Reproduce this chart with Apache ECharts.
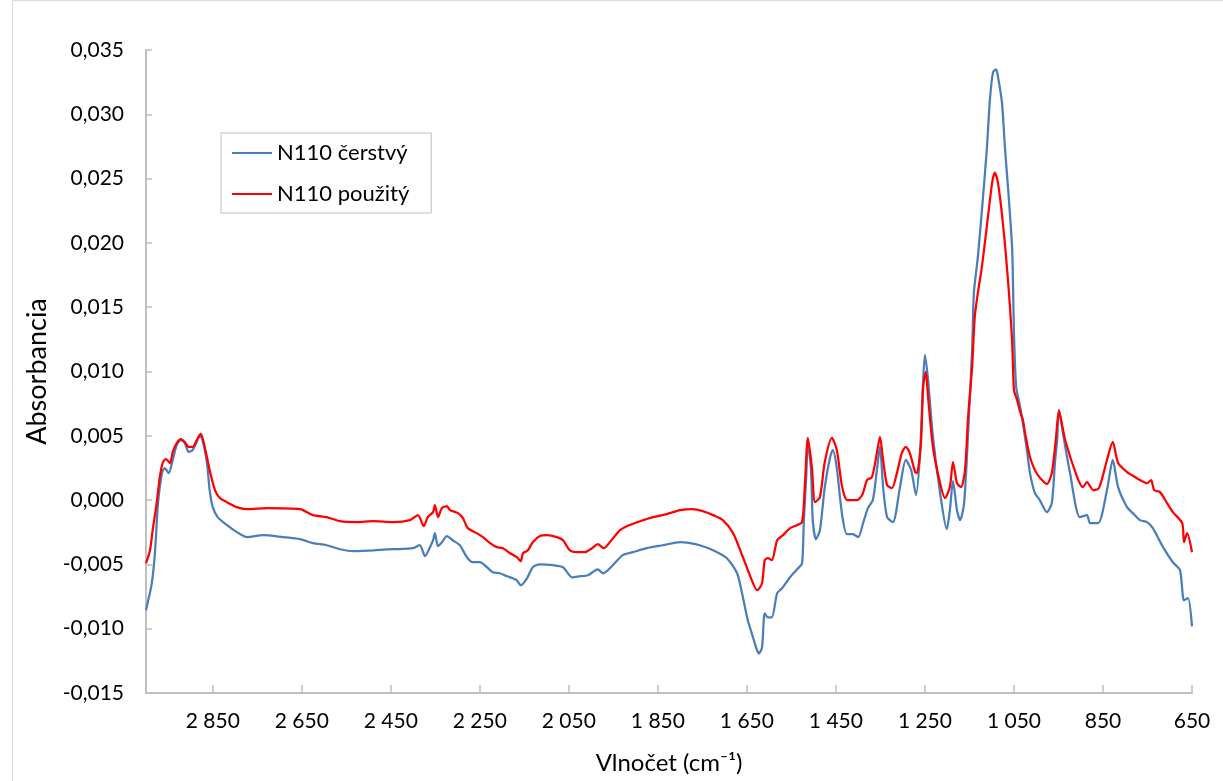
<!DOCTYPE html>
<html>
<head>
<meta charset="utf-8">
<script src="https://cdn.jsdelivr.net/npm/echarts@6/dist/echarts.min.js"></script>
<style>
html,body{margin:0;padding:0;background:#fff;}
#chart{width:1223px;height:781px;}
</style>
</head>
<body>
<div id="chart"></div>
<script>
const seriesNames = ['N110 čerstvý', 'N110 použitý'];
const xAxisTitle = 'Vlnočet (cm\u207B\u00B9)';
const yAxisTitle = 'Absorbancia';

const wnFresh = [3000,2996,2987,2980,2973,2964,2958,2949,2940,2931,2922,2913,2904,2895,2886,2879,2872,2863,2857,2850,2839,2818,2796,2773,2737,2692,2654,2625,2594,2564,2535,2490,2445,2400,2385,2373,2362,2355,2351,2344,2335,2324,2311,2295,2279,2266,2250,2234,2221,2205,2189,2176,2167,2158,2144,2131,2115,2086,2063,2043,2025,2007,1985,1973,1951,1929,1906,1875,1839,1800,1778,1756,1726,1695,1672,1659,1648,1639,1627,1623,1616,1610,1603,1594,1582,1571,1553,1535,1526,1522,1517,1513,1506,1502,1495,1486,1475,1463,1457,1448,1436,1425,1412,1400,1389,1378,1367,1358,1351,1344,1335,1322,1306,1293,1281,1270,1261,1254,1250,1243,1232,1216,1201,1194,1187,1178,1171,1162,1153,1144,1140,1131,1120,1111,1104,1097,1090,1086,1077,1070,1063,1054,1050,1045,1036,1030,1021,1014,1003,992,976,965,958,953,949,940,924,902,886,879,861,841,828,816,796,783,767,751,738,715,693,677,668,659,650];
const absFresh = [-0.00857,-0.00795,-0.00647,-0.00413,-0.00023,0.00210,0.00249,0.00210,0.00312,0.00428,0.00467,0.00444,0.00374,0.00390,0.00452,0.00506,0.00452,0.00288,0.00078,-0.00055,-0.00132,-0.00195,-0.00249,-0.00288,-0.00273,-0.00288,-0.00304,-0.00335,-0.00351,-0.00382,-0.00397,-0.00390,-0.00382,-0.00374,-0.00351,-0.00436,-0.00366,-0.00312,-0.00257,-0.00358,-0.00327,-0.00280,-0.00312,-0.00351,-0.00444,-0.00483,-0.00483,-0.00522,-0.00561,-0.00569,-0.00592,-0.00608,-0.00623,-0.00662,-0.00608,-0.00522,-0.00499,-0.00506,-0.00522,-0.00600,-0.00592,-0.00584,-0.00538,-0.00569,-0.00506,-0.00428,-0.00405,-0.00374,-0.00351,-0.00327,-0.00335,-0.00351,-0.00390,-0.00452,-0.00569,-0.00756,-0.00935,-0.01036,-0.01169,-0.01192,-0.01145,-0.00880,-0.00911,-0.00911,-0.00724,-0.00686,-0.00600,-0.00530,-0.00491,-0.00156,0.00156,0.00444,0.00234,-0.00156,-0.00304,-0.00234,0.00101,0.00335,0.00390,0.00249,-0.00117,-0.00265,-0.00265,-0.00288,-0.00179,-0.00062,0.00000,0.00234,0.00413,0.00101,-0.00132,-0.00171,0.00101,0.00312,0.00234,0.00039,0.00366,0.00935,0.01130,0.00935,0.00491,0.00055,-0.00226,-0.00078,0.00148,-0.00078,-0.00156,-0.00023,0.00522,0.01169,0.01613,0.01893,0.02337,0.02727,0.03116,0.03326,0.03350,0.03295,0.03093,0.02727,0.02415,0.01948,0.01301,0.00880,0.00724,0.00600,0.00390,0.00210,0.00055,0.00000,-0.00093,-0.00023,0.00288,0.00467,0.00701,0.00522,0.00210,-0.00132,-0.00117,-0.00179,-0.00179,0.00078,0.00312,0.00101,-0.00055,-0.00101,-0.00156,-0.00171,-0.00218,-0.00366,-0.00483,-0.00545,-0.00779,-0.00763,-0.00982];

const wnUsed = [3000,2991,2985,2976,2969,2962,2955,2946,2940,2931,2922,2913,2904,2895,2886,2877,2868,2857,2845,2834,2818,2796,2773,2728,2654,2625,2594,2564,2526,2490,2445,2407,2389,2376,2367,2355,2351,2344,2335,2324,2317,2299,2288,2277,2257,2243,2227,2212,2198,2182,2167,2158,2153,2142,2131,2115,2099,2077,2063,2048,2032,2014,1998,1985,1971,1958,1935,1920,1890,1861,1830,1800,1771,1749,1726,1704,1681,1659,1639,1627,1616,1610,1603,1594,1582,1569,1553,1538,1526,1520,1513,1504,1497,1486,1475,1459,1448,1436,1425,1414,1403,1391,1380,1369,1358,1351,1344,1335,1324,1313,1302,1293,1284,1272,1268,1259,1254,1248,1243,1232,1216,1205,1194,1187,1178,1169,1160,1153,1144,1138,1131,1122,1111,1099,1093,1086,1075,1063,1054,1050,1043,1036,1030,1025,1014,998,976,965,956,949,935,908,895,886,872,859,841,828,816,796,778,767,751,742,735,722,706,693,672,668,661,650];
const absUsed = [-0.00491,-0.00390,-0.00234,-0.00023,0.00179,0.00296,0.00319,0.00288,0.00374,0.00444,0.00475,0.00452,0.00413,0.00413,0.00467,0.00514,0.00413,0.00234,0.00078,0.00016,-0.00016,-0.00055,-0.00070,-0.00062,-0.00070,-0.00117,-0.00132,-0.00164,-0.00171,-0.00164,-0.00171,-0.00156,-0.00117,-0.00203,-0.00132,-0.00093,-0.00039,-0.00132,-0.00062,-0.00047,-0.00078,-0.00101,-0.00140,-0.00218,-0.00257,-0.00288,-0.00335,-0.00366,-0.00374,-0.00413,-0.00444,-0.00475,-0.00413,-0.00390,-0.00327,-0.00280,-0.00273,-0.00288,-0.00312,-0.00390,-0.00405,-0.00405,-0.00374,-0.00343,-0.00374,-0.00327,-0.00234,-0.00203,-0.00164,-0.00132,-0.00109,-0.00078,-0.00070,-0.00086,-0.00117,-0.00156,-0.00257,-0.00444,-0.00623,-0.00701,-0.00647,-0.00467,-0.00452,-0.00467,-0.00312,-0.00273,-0.00218,-0.00195,-0.00171,0.00101,0.00483,0.00257,-0.00016,0.00023,0.00296,0.00483,0.00390,0.00101,0.00000,0.00000,0.00000,0.00039,0.00156,0.00179,0.00366,0.00491,0.00312,0.00117,0.00093,0.00210,0.00366,0.00413,0.00366,0.00218,0.00210,0.00444,0.00880,0.00997,0.00802,0.00413,0.00132,0.00016,0.00101,0.00296,0.00132,0.00101,0.00234,0.00647,0.01036,0.01426,0.01613,0.01815,0.02127,0.02469,0.02547,0.02469,0.02158,0.01690,0.01223,0.00857,0.00779,0.00686,0.00623,0.00522,0.00335,0.00203,0.00125,0.00210,0.00467,0.00693,0.00467,0.00179,0.00101,0.00140,0.00078,0.00093,0.00312,0.00452,0.00288,0.00218,0.00179,0.00156,0.00132,0.00156,0.00078,0.00062,-0.00023,-0.00093,-0.00179,-0.00327,-0.00257,-0.00405];

const FONT = 'Lato';
const chart = echarts.init(document.getElementById('chart'), null, {renderer: 'canvas'});

function fmtX(v) {
  const s = String(Math.round(v));
  return s.length > 3 ? s.slice(0, s.length - 3) + ' ' + s.slice(-3) : s;
}
function fmtY(v) {
  return (Math.round(v * 1000) / 1000).toFixed(3).replace('.', ',');
}

chart.setOption({
  backgroundColor: '#fff',
  animation: false,
  textStyle: {fontFamily: FONT},
  grid: {left: 146, right: 31, top: 50, bottom: 88, containLabel: false},
  legend: {
    left: 221, top: 133,
    orient: 'vertical',
    icon: 'rect',
    itemWidth: 40, itemHeight: 2, itemGap: 15,
    padding: [7, 22, 6, 11],
    borderColor: '#bfbfbf', borderWidth: 1,
    textStyle: {fontFamily: FONT, fontSize: 22, color: '#000', lineHeight: 26},
    data: seriesNames
  },
  xAxis: {
    type: 'value', inverse: true,
    min: 650, max: 3000, interval: 200,
    name: xAxisTitle, nameLocation: 'middle', nameGap: 58,
    nameTextStyle: {fontFamily: FONT, fontSize: 24, color: '#000'},
    axisLine: {onZero: false, lineStyle: {color: '#bfbfbf', width: 2}},
    axisTick: {inside: true, length: 8, lineStyle: {color: '#bfbfbf', width: 1.5}},
    axisLabel: {formatter: fmtX, fontSize: 21, color: '#000', margin: 18, showMaxLabel: false, fontFamily: FONT},
    splitLine: {show: false}
  },
  yAxis: {
    type: 'value',
    min: -0.015, max: 0.035, interval: 0.005,
    name: yAxisTitle, nameLocation: 'middle', nameGap: 95, nameRotate: 90,
    nameTextStyle: {fontFamily: FONT, fontSize: 27, color: '#000'},
    axisLine: {show: true, onZero: false, lineStyle: {color: '#bfbfbf', width: 2}},
    axisTick: {show: true, inside: true, length: 6, lineStyle: {color: '#bfbfbf', width: 1.5}},
    axisLabel: {formatter: fmtY, fontSize: 21, color: '#000', margin: 22, fontFamily: FONT},
    splitLine: {show: false}
  },
  series: [
    {
      name: seriesNames[0], type: 'line', symbol: 'none', smooth: 0.25,
      lineStyle: {color: '#4a7ebb', width: 2.25},
      itemStyle: {color: '#4a7ebb'},
      data: wnFresh.map((w, i) => [w, absFresh[i]])
    },
    {
      name: seriesNames[1], type: 'line', symbol: 'none', smooth: 0.25,
      lineStyle: {color: '#ff0000', width: 2.25},
      itemStyle: {color: '#ff0000'},
      data: wnUsed.map((w, i) => [w, absUsed[i]])
    }
  ],
  graphic: [{
    type: 'rect', left: 10, top: -2, silent: true,
    shape: {width: 1220, height: 790},
    style: {fill: 'none', stroke: '#d9d9d9', lineWidth: 1}
  }]
});
</script>
</body>
</html>
